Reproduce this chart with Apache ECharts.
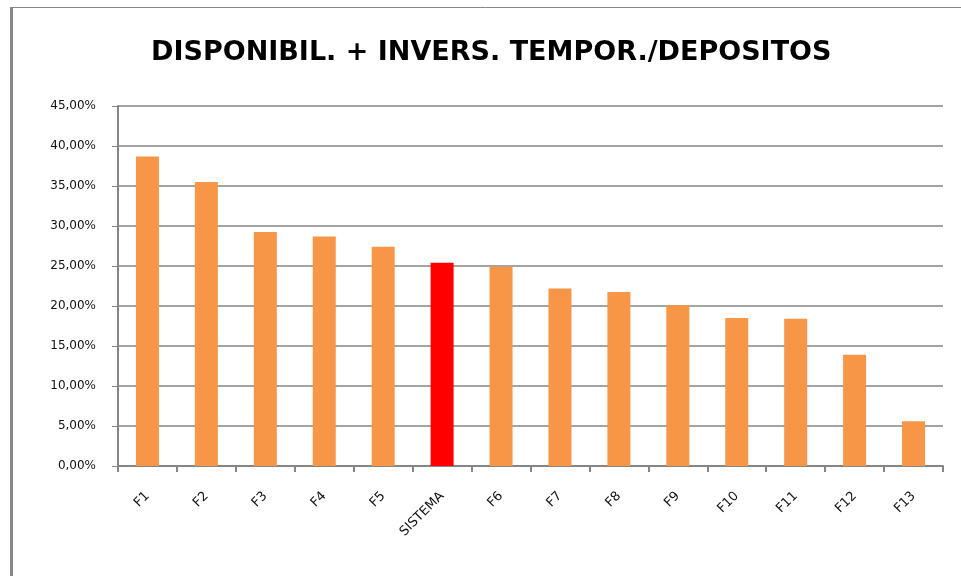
<!DOCTYPE html>
<html>
<head>
<meta charset="utf-8">
<script src="https://cdn.jsdelivr.net/npm/echarts@6/dist/echarts.min.js"></script>
<style>html,body{margin:0;padding:0;background:#fff;}#c{width:961px;height:576px;}</style>
</head>
<body>
<div id="c"></div>
<script>
const categories = ['F1','F2','F3','F4','F5','SISTEMA','F6','F7','F8','F9','F10','F11','F12','F13'];
const values = [38.7, 35.5, 29.25, 28.7, 27.4, 25.4, 24.9, 22.2, 21.75, 20.1, 18.5, 18.4, 13.9, 5.6];
const highlightCategory = 'SISTEMA';
const yTicks = {min: 0, max: 45, interval: 5};
const titleText = 'DISPONIBIL. + INVERS. TEMPOR./DEPOSITOS';

const chart = echarts.init(document.getElementById('c'), null, {renderer: 'canvas'});
chart.setOption({
  animation: false,
  backgroundColor: '#ffffff',
  title: {
    text: titleText,
    left: 146,
    top: 34,
    textStyle: {fontFamily: 'DejaVu Sans', fontWeight: 'bold', fontSize: 27, color: '#000'}
  },
  graphic: [
    {type: 'line', shape: {x1: 11.5, y1: 7, x2: 11.5, y2: 576}, style: {stroke: '#888', lineWidth: 3}},
    {type: 'line', shape: {x1: 10, y1: 7.5, x2: 961, y2: 7.5}, style: {stroke: '#888', lineWidth: 1}}
  ],
  grid: {left: 118, right: 18, top: 106, bottom: 110},
  xAxis: {
    type: 'category',
    data: categories,
    boundaryGap: true,
    axisLine: {lineStyle: {color: '#868686', width: 2}},
    axisTick: {show: true, alignWithLabel: false, length: 6, lineStyle: {color: '#868686', width: 2}},
    axisLabel: {rotate: 45, margin: 28, fontFamily: 'DejaVu Sans', fontSize: 13, color: '#111', interval: 0}
  },
  yAxis: {
    type: 'value',
    min: yTicks.min, max: yTicks.max, interval: yTicks.interval,
    axisLine: {show: true, lineStyle: {color: '#868686', width: 2}},
    axisTick: {show: true, length: 6, lineStyle: {color: '#868686', width: 1}},
    splitLine: {lineStyle: {color: '#868686', width: 1.5}},
    axisLabel: {
      margin: 22, fontFamily: 'DejaVu Sans', fontSize: 12, color: '#111',
      formatter: v => v.toFixed(2).replace('.', ',') + '%'
    }
  },
  series: [{
    type: 'bar',
    barWidth: 23,
    data: values.map((v, i) => ({
      value: v,
      itemStyle: {color: categories[i] === highlightCategory ? '#ff0000' : '#f79646'}
    }))
  }]
});
</script>
</body>
</html>
